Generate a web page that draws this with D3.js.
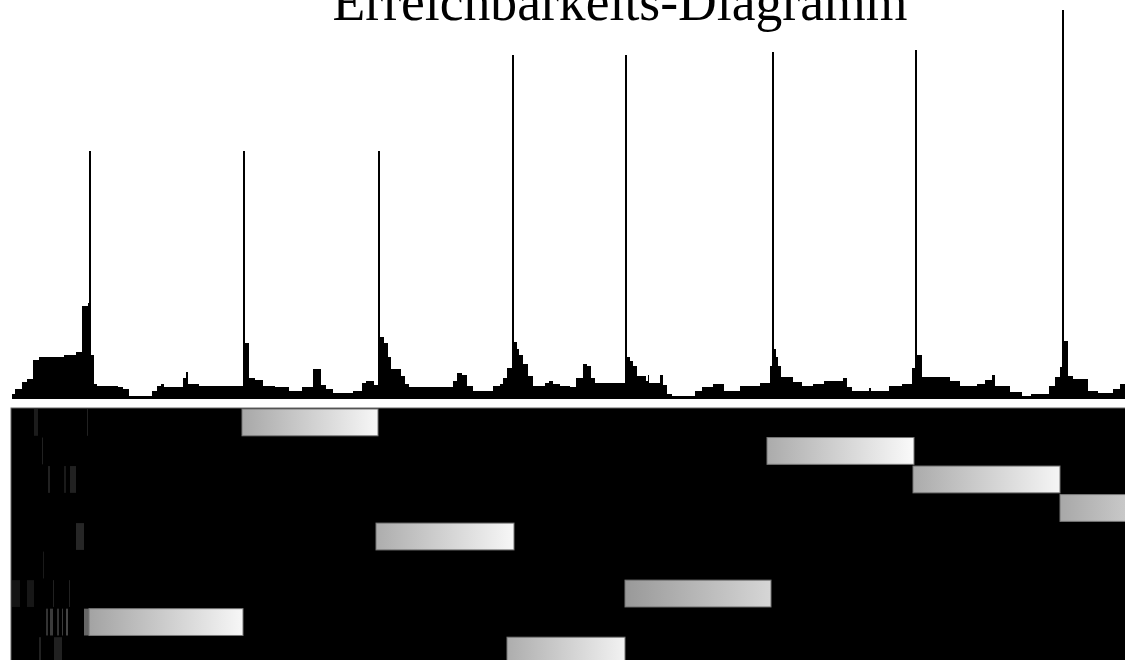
<!DOCTYPE html>
<html>
<head>
<meta charset="utf-8">
<script src="https://cdn.jsdelivr.net/npm/d3@7.9.0/dist/d3.min.js"></script>
<style>
  html, body { margin: 0; padding: 0; background: #fff; overflow: hidden; }
  svg { display: block; }
</style>
</head>
<body>
<div id="chart"></div>
<script>
/* ---------------- DATA ---------------- */

const title = "Erreichbarkeits-Diagramm";

// reachability plot: [order position, reachability] steps
const reachSteps = [
  [1,5],[4,10],[11,17],[16,20],[22,39],[28,42],[53,44],[65,47],[71,93],[77,96],
  [78,248],[80,44],[83,15],[86,13],[107,12],[112,10],[118,3],[141,8],[146,13],[150,15],
  [153,12],[172,21],[175,27],[177,15],[188,13],[232,248],[234,56],[238,21],[244,19],[252,13],
  [264,12],[278,8],[291,12],[302,30],[310,14],[315,10],[322,6],[342,8],[351,16],[355,18],
  [363,14],[367,248],[369,62],[373,56],[377,42],[380,30],[390,23],[394,15],[398,12],[442,18],
  [446,26],[451,24],[456,13],[462,8],[482,13],[489,15],[492,21],[496,31],[501,344],[503,57],
  [506,50],[508,44],[512,35],[517,23],[522,13],[534,16],[538,18],[542,15],[549,13],[559,12],
  [565,21],[572,35],[576,33],[580,21],[584,16],[614,344],[616,42],[619,38],[622,33],[626,23],
  [635,18],[637,24],[638,16],[649,24],[652,14],[656,5],[661,3],[684,8],[691,12],[702,15],
  [713,8],[729,13],[749,16],[759,33],[761,347],[763,50],[765,42],[767,33],[770,22],[782,17],
  [791,13],[802,15],[813,18],[832,21],[836,12],[841,8],[858,11],[860,8],[878,13],[891,15],
  [901,31],[904,349],[906,44],[911,22],[939,18],[949,13],[966,15],[974,19],[981,24],[984,13],
  [999,7],[1011,3],[1020,5],[1038,13],[1044,22],[1049,32],[1051,389],[1053,58],[1057,23],[1062,20],
  [1077,8],[1087,6],[1102,10],[1109,15],[1130,15]
];

// cluster rows (top to bottom)
const rows = [0, 1, 2, 3, 4, 5, 6, 7, 8];

// clusters: row, start, end, shade at start, shade at end
const clusters = [
  { row: 0, start: 231, end: 367, s0: 0.66, s1: 0.97 },
  { row: 1, start: 756, end: 903, s0: 0.67, s1: 0.98 },
  { row: 2, start: 902, end: 1049, s0: 0.67, s1: 0.96 },
  { row: 3, start: 1049, end: 1200, s0: 0.66, s1: 0.95 },
  { row: 4, start: 365, end: 503, s0: 0.68, s1: 0.97 },
  { row: 6, start: 614, end: 760, s0: 0.6, s1: 0.84 },
  { row: 7, start: 78, end: 232, s0: 0.64, s1: 0.97 },
  { row: 8, start: 496, end: 614, s0: 0.68, s1: 0.95 }
];

// faint traces in the noise region: row, start, end, shade
const traces = [
  [0,23,27,0.11],[0,76,77,0.13],
  [1,31,32,0.13],
  [2,37,39,0.13],[2,53,55,0.1],[2,59,65,0.13],
  [4,65,73,0.15],
  [5,32,33,0.1],
  [6,1,9,0.08],[6,16,23,0.09],[6,42,43,0.13],[6,58,59,0.13],
  [7,35,37,0.2],[7,39,42,0.23],[7,46,48,0.2],[7,51,52,0.23],[7,55,57,0.27],[7,73,78,0.4],
  [8,28,30,0.13],[8,43,51,0.13]
];

/* ---------------- CHART ---------------- */

const width = 1125;
const height = 660;

const svg = d3.select("#chart")
  .append("svg")
  .attr("width", width)
  .attr("height", height);

const xScale = d3.scaleLinear()
  .domain([0, 1114])
  .range([11, 1125]);

const yScale = d3.scaleLinear()
  .domain([0, 399])
  .range([399, 0]);

const rowScale = d3.scaleBand()
  .domain(rows)
  .range([409, 664])
  .paddingInner(0.06);

const gray = d3.scaleLinear()
  .domain([0, 1])
  .range(["#000", "#fff"]);

/* title */
svg.append("text")
  .attr("x", 620)
  .attr("y", 20)
  .attr("text-anchor", "middle")
  .attr("font-family", "'Liberation Serif', 'DejaVu Serif', serif")
  .attr("font-size", 54)
  .attr("textLength", 575)
  .attr("lengthAdjust", "spacingAndGlyphs")
  .attr("fill", "#000")
  .text(title);

/* reachability area */
const area = d3.area()
  .x(d => xScale(d[0]))
  .y0(yScale(0))
  .y1(d => yScale(d[1]))
  .curve(d3.curveStepAfter);

svg.append("path")
  .datum(reachSteps)
  .attr("d", area)
  .attr("fill", "#000");

/* cluster panel */
const panel = svg.append("g").attr("class", "clusters");

panel.append("rect")
  .attr("x", xScale(0))
  .attr("y", rowScale.range()[0] - 1)
  .attr("width", width)
  .attr("height", 260)
  .attr("fill", "#000")
  .attr("stroke", "#666");

panel.selectAll("rect.trace")
  .data(traces)
  .join("rect")
  .attr("class", "trace")
  .attr("x", d => xScale(d[1]))
  .attr("y", d => rowScale(d[0]))
  .attr("width", d => xScale(d[2]) - xScale(d[1]))
  .attr("height", rowScale.bandwidth())
  .attr("fill", d => gray(d[3]));

const defs = svg.append("defs");

clusters.forEach((c, i) => {
  const g = defs.append("linearGradient")
    .attr("id", "grad" + i)
    .attr("x1", "0%").attr("x2", "100%")
    .attr("y1", "0%").attr("y2", "0%");
  g.append("stop").attr("offset", "0%").attr("stop-color", gray(c.s0));
  g.append("stop").attr("offset", "100%").attr("stop-color", gray(c.s1));
});

panel.selectAll("rect.cluster")
  .data(clusters)
  .join("rect")
  .attr("class", "cluster")
  .attr("x", d => xScale(d.start))
  .attr("y", d => rowScale(d.row))
  .attr("width", d => xScale(d.end) - xScale(d.start))
  .attr("height", rowScale.bandwidth())
  .attr("fill", (d, i) => `url(#grad${i})`)
  .attr("stroke", "#777")
  .attr("stroke-width", 1);
</script>
</body>
</html>
